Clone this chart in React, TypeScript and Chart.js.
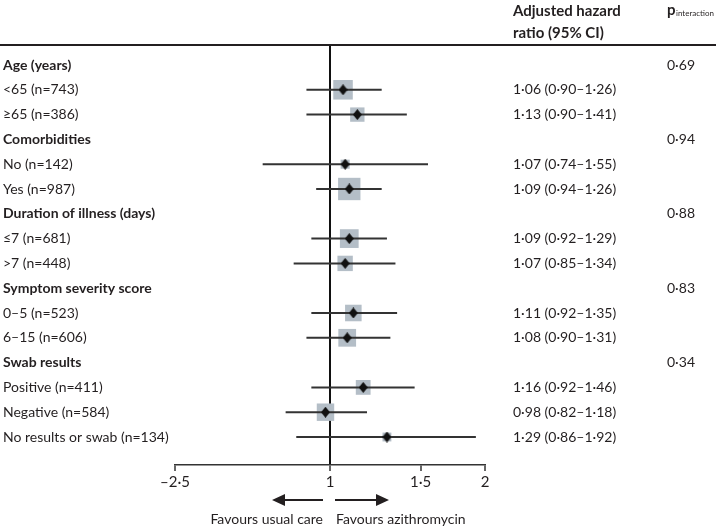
import React, { useEffect, useRef } from "react";
import { Chart, registerables } from "chart.js";

Chart.register(...registerables);

// ---------------- data ----------------
const groupNames = [
  "Age (years)",
  "Comorbidities",
  "Duration of illness (days)",
  "Symptom severity score",
  "Swab results",
];
const pInteraction = ["0·69", "0·94", "0·88", "0·83", "0·34"];

const subgroupLabels = [
  "<65",
  "≥65",
  "No",
  "Yes",
  "≤7",
  ">7",
  "0–5",
  "6–15",
  "Positive",
  "Negative",
  "No results or swab",
];
const subgroupGroup = [0, 0, 1, 1, 2, 2, 3, 3, 4, 4, 4];
const sampleSizes = [743, 386, 142, 987, 681, 448, 523, 606, 411, 584, 134];
const hazardRatios = [1.06, 1.13, 1.07, 1.09, 1.09, 1.07, 1.11, 1.08, 1.16, 0.98, 1.29];
const ciLower = [0.9, 0.9, 0.74, 0.94, 0.92, 0.85, 0.92, 0.9, 0.92, 0.82, 0.86];
const ciUpper = [1.26, 1.41, 1.55, 1.26, 1.29, 1.34, 1.35, 1.31, 1.46, 1.18, 1.92];

const tickValues = [0.5, 1, 1.5, 2];
const tickLabels = ["–2·5", "1", "1·5", "2"];

const headerLines = ["Adjusted hazard", "ratio (95% CI)"];
const pHeaderMain = "p";
const pHeaderSub = "interaction";
const favoursLeft = "Favours usual care";
const favoursRight = "Favours azithromycin";

// ---------------- derived rows ----------------
type Row = { heading: boolean; label: string; p?: string; idx?: number };
const rows: Row[] = [];
groupNames.forEach((g, gi) => {
  rows.push({ heading: true, label: g, p: pInteraction[gi] });
  subgroupGroup.forEach((sg, i) => {
    if (sg === gi) rows.push({ heading: false, label: `${subgroupLabels[i]} (n=${sampleSizes[i]})`, idx: i });
  });
});
const subgroupRow: number[] = [];
rows.forEach((r, ri) => {
  if (!r.heading && r.idx !== undefined) subgroupRow[r.idx] = ri;
});

const fmt = (v: number) => v.toFixed(2).replace(".", "·");

const FONT = 'Lato, "DejaVu Sans Condensed", sans-serif';
const TEXT = "#231f20";
const SQUARE = "#b4bec7";

const forestText = {
  id: "forestText",
  afterDraw(chart: any) {
    const { ctx, chartArea, scales } = chart;
    const xs = scales.x;
    const ys = scales.y;
    ctx.save();
    // top rule
    ctx.strokeStyle = TEXT;
    ctx.lineWidth = 2;
    ctx.beginPath();
    ctx.moveTo(0, chartArea.top);
    ctx.lineTo(chart.width, chartArea.top);
    ctx.stroke();

    ctx.fillStyle = TEXT;
    ctx.textBaseline = "middle";
    ctx.textAlign = "left";
    ctx.font = `bold 15px ${FONT}`;
    ctx.fillText(headerLines[0], 513, 11);
    ctx.fillText(headerLines[1], 513, 33);
    ctx.font = `bold 15px ${FONT}`;
    ctx.fillText(pHeaderMain, 667, 10);
    ctx.font = `8px ${FONT}`;
    ctx.fillText(pHeaderSub, 676, 13);

    rows.forEach((r, ri) => {
      const py = ys.getPixelForValue(ri);
      if (r.heading) {
        ctx.font = `bold 14px ${FONT}`;
        ctx.fillText(r.label, 3, py);
        ctx.font = `14px ${FONT}`;
        ctx.fillText(r.p, 667, py);
      } else {
        const i = r.idx as number;
        ctx.font = `14px ${FONT}`;
        ctx.fillText(r.label, 3, py);
        ctx.fillText(`${fmt(hazardRatios[i])} (${fmt(ciLower[i])}–${fmt(ciUpper[i])})`, 513, py);
      }
    });

    // arrows
    const x1 = xs.getPixelForValue(1);
    const ay = chartArea.bottom + 35;
    ctx.lineWidth = 2;
    ctx.beginPath();
    ctx.moveTo(x1 - 7, ay);
    ctx.lineTo(x1 - 46, ay);
    ctx.moveTo(x1 + 5, ay);
    ctx.lineTo(x1 + 47, ay);
    ctx.stroke();
    ctx.beginPath();
    ctx.moveTo(x1 - 58, ay);
    ctx.lineTo(x1 - 45, ay - 6);
    ctx.lineTo(x1 - 45, ay + 6);
    ctx.closePath();
    ctx.moveTo(x1 + 59, ay);
    ctx.lineTo(x1 + 46, ay - 6);
    ctx.lineTo(x1 + 46, ay + 6);
    ctx.closePath();
    ctx.fill();

    ctx.font = `14px ${FONT}`;
    ctx.textAlign = "right";
    ctx.fillText(favoursLeft, x1 - 7, chartArea.bottom + 54);
    ctx.textAlign = "left";
    ctx.fillText(favoursRight, x1 + 6, chartArea.bottom + 54);
    ctx.restore();
  },
};

export default function App() {
  const ref = useRef<HTMLCanvasElement | null>(null);
  useEffect(() => {
    document.body.style.margin = "0";
    const diamond = document.createElement("canvas");
    diamond.width = 9;
    diamond.height = 11;
    const dctx = diamond.getContext("2d")!;
    dctx.fillStyle = "#111";
    dctx.beginPath();
    dctx.moveTo(4.5, 0);
    dctx.lineTo(9, 5.5);
    dctx.lineTo(4.5, 11);
    dctx.lineTo(0, 5.5);
    dctx.closePath();
    dctx.fill();

    const ciData: any[] = [];
    hazardRatios.forEach((_, i) => {
      ciData.push({ x: ciLower[i], y: subgroupRow[i] });
      ciData.push({ x: ciUpper[i], y: subgroupRow[i] });
      ciData.push({ x: 1, y: NaN });
    });

    const chart = new Chart(ref.current!, {
      type: "scatter",
      data: {
        datasets: [
          {
            label: "HR",
            data: hazardRatios.map((v, i) => ({ x: v, y: subgroupRow[i] })),
            pointStyle: diamond as any,
            pointRadius: 5,
            order: 0,
          },
          {
            label: "CI",
            data: ciData,
            showLine: true,
            spanGaps: false,
            borderColor: "#333",
            borderWidth: 2,
            pointRadius: 0,
            order: 1,
          } as any,
          {
            label: "Weight",
            data: hazardRatios.map((v, i) => ({ x: v, y: subgroupRow[i] })),
            pointStyle: "rect",
            pointRadius: (c: any) => (0.68 * Math.sqrt(sampleSizes[c.dataIndex]) + 1) / Math.SQRT2,
            backgroundColor: SQUARE,
            borderWidth: 0,
            order: 2,
          },
        ],
      },
      options: {
        animation: false,
        responsive: true,
        maintainAspectRatio: false,
        events: [],
        layout: { padding: { left: 175, right: 231, top: 45, bottom: 0 } },
        plugins: { legend: { display: false }, tooltip: { enabled: false } },
        scales: {
          x: {
            type: "logarithmic",
            position: "bottom",
            min: 0.5,
            max: 2,
            afterBuildTicks: (s: any) => {
              s.ticks = tickValues.map((v) => ({ value: v }));
            },
            afterFit: (s: any) => {
              s.height = 63;
            },
            ticks: {
              autoSkip: false,
              maxRotation: 0,
              padding: 2,
              color: TEXT,
              font: { family: FONT, size: 15 },
              callback: (_v: any, i: number) => tickLabels[i],
            },
            grid: {
              color: (c: any) => (c.tick && c.tick.value === 1 ? "#111" : "rgba(0,0,0,0)"),
              lineWidth: 2,
              drawTicks: true,
              tickLength: 6,
              tickColor: "#333",
              tickWidth: 1.5,
            },
            border: { display: true, color: "#333", width: 1.5 },
          },
          y: {
            type: "linear",
            display: false,
            reverse: true,
            min: -0.806,
            max: 16.129,
          },
        },
      },
      plugins: [forestText],
    });
    return () => chart.destroy();
  }, []);
  return (
    <div style={{ position: "relative", width: 716, height: 528 }}>
      <canvas ref={ref} />
    </div>
  );
}
